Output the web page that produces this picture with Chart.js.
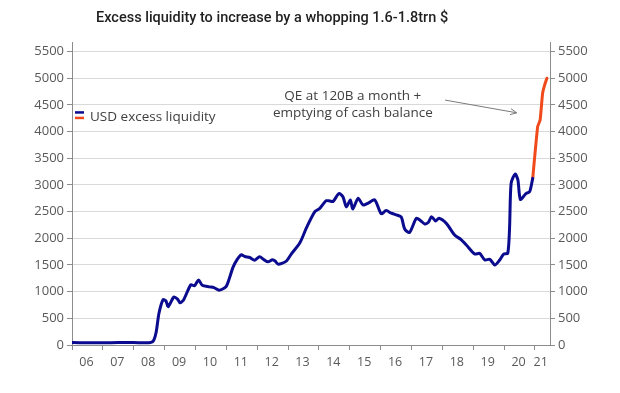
<!DOCTYPE html>
<html><head><meta charset="utf-8">
<script src="https://cdn.jsdelivr.net/npm/chart.js@4.4.0/dist/chart.umd.min.js"></script>
<style>html,body{margin:0;padding:0;background:#fff;}#wrap{width:620px;height:393px;}</style>
</head><body><div id="wrap"><canvas id="c" width="620" height="393"></canvas></div>
<script>
const titleText = 'Excess liquidity to increase by a whopping 1.6-1.8trn $';
const seriesLabel = 'USD excess liquidity';
const forecastLabel = 'USD excess liquidity (projection)';
const annotationLines = ['QE at 120B a month +', 'emptying of cash balance'];
const yearTicks = [2006,2007,2008,2009,2010,2011,2012,2013,2014,2015,2016,2017,2018,2019,2020,2021];
const yearLabels = ['06','07','08','09','10','11','12','13','14','15','16','17','18','19','20','21'];
const yearLabelPos = [2006.47,2007.47,2008.47,2009.47,2010.47,2011.47,2012.47,2013.47,2014.47,2015.47,2016.47,2017.47,2018.47,2019.47,2020.47,2021.19];
const yTicks = [0,500,1000,1500,2000,2500,3000,3500,4000,4500,5000,5500];

const histDates = [2006.02,2006.5,2007.0,2007.5,2008.0,2008.55,2008.65,2008.73,2008.82,2008.95,2009.04,2009.12,2009.3,2009.42,2009.5,2009.62,2009.85,2009.97,2010.1,2010.22,2010.45,2010.6,2010.75,2010.85,2011.0,2011.1,2011.22,2011.35,2011.48,2011.6,2011.76,2011.92,2012.08,2012.22,2012.35,2012.5,2012.58,2012.68,2012.8,2012.95,2013.1,2013.38,2013.6,2013.87,2014.03,2014.15,2014.24,2014.35,2014.46,2014.65,2014.78,2014.89,2015.02,2015.1,2015.27,2015.43,2015.6,2015.81,2016.02,2016.18,2016.35,2016.51,2016.67,2016.78,2016.94,2017.16,2017.3,2017.43,2017.55,2017.65,2017.78,2017.89,2018.13,2018.4,2018.6,2018.78,2019.05,2019.21,2019.38,2019.54,2019.7,2019.86,2019.99,2020.12,2020.18,2020.23,2020.36,2020.45,2020.53,2020.72,2020.83,2020.93];
const histValues = [45,42,43,45,45,45,90,250,600,850,830,720,900,860,790,850,1130,1110,1220,1120,1090,1075,1030,1040,1100,1250,1460,1600,1690,1660,1640,1590,1655,1600,1560,1600,1575,1515,1530,1575,1700,1910,2200,2500,2560,2650,2705,2700,2690,2840,2780,2590,2720,2550,2750,2625,2660,2720,2460,2520,2470,2440,2400,2175,2110,2375,2330,2270,2300,2405,2325,2375,2280,2060,1980,1875,1705,1718,1593,1606,1500,1593,1705,1718,2200,3030,3205,3092,2730,2843,2873,3124];
const fcstDates = [2020.93,2021.09,2021.17,2021.25,2021.32,2021.39];
const fcstValues = [3124,4093,4217,4717,4880,5000];

const annX = 2015.1, annY1 = 4672, annY2 = 4342;
const arrowFrom = [2018.09, 4591], arrowTo = [2020.41, 4353];

const FONT = '"Open Sans", "Noto Sans", sans-serif';
const axisGray = '#8c8c8c';
const textGray = '#595959';

const pts = (xs, ys) => xs.map((x, i) => ({x, y: ys[i]}));

const overlay = {
  id: 'overlay',
  afterDatasetsDraw(chart) {
    const {ctx, chartArea, scales} = chart;
    ctx.save();
    // title
    ctx.font = '500 14.5px Roboto, "Open Sans", sans-serif';
    ctx.fillStyle = '#1f1f1f';
    ctx.textAlign = 'left';
    ctx.textBaseline = 'middle';
    ctx.fillText(titleText, 96, 18);
    // legend
    const lx = chartArea.left + 3, ly = scales.y.getPixelForValue(4280);
    ctx.fillStyle = chart.data.datasets[0].borderColor;
    ctx.fillRect(lx, ly - 5.5, 9, 2.5);
    ctx.fillStyle = chart.data.datasets[1].borderColor;
    ctx.fillRect(lx, ly, 9, 2.5);
    ctx.font = '13.5px ' + FONT;
    ctx.fillStyle = '#404040';
    ctx.textBaseline = 'middle';
    ctx.fillText(seriesLabel, lx + 15, ly);
    // annotation
    ctx.textAlign = 'center';
    ctx.fillText(annotationLines[0], scales.x.getPixelForValue(annX), scales.y.getPixelForValue(annY1));
    ctx.fillText(annotationLines[1], scales.x.getPixelForValue(annX), scales.y.getPixelForValue(annY2));
    const x1 = scales.x.getPixelForValue(arrowFrom[0]), y1 = scales.y.getPixelForValue(arrowFrom[1]);
    const x2 = scales.x.getPixelForValue(arrowTo[0]), y2 = scales.y.getPixelForValue(arrowTo[1]);
    ctx.strokeStyle = '#7a7a7a';
    ctx.lineWidth = 1;
    ctx.beginPath();
    ctx.moveTo(x1, y1); ctx.lineTo(x2, y2);
    const ang = Math.atan2(y2 - y1, x2 - x1);
    const hl = 7, ha = 0.45;
    ctx.moveTo(x2 - hl * Math.cos(ang - ha), y2 - hl * Math.sin(ang - ha));
    ctx.lineTo(x2, y2);
    ctx.lineTo(x2 - hl * Math.cos(ang + ha), y2 - hl * Math.sin(ang + ha));
    ctx.stroke();
    ctx.restore();
  }
};

const yAxis = (pos) => ({
  type: 'linear', position: pos, min: 0, max: 5680,
  afterBuildTicks: s => { s.ticks = yTicks.map(v => ({value: v})); },
  ticks: {autoSkip: false, padding: 3, color: textGray, font: {family: FONT, size: 13}, callback: v => String(v)},
  grid: {color: '#d9d9d9', drawOnChartArea: pos === 'left', tickColor: axisGray, tickLength: 5, lineWidth: 1},
  border: {display: true, color: axisGray, width: 1},
  afterFit: s => { s.width = pos === 'left' ? 72 : 70; s.paddingTop = 0; s.paddingBottom = 0; }
});

new Chart(document.getElementById('c'), {
  type: 'line',
  data: {
    datasets: [
      {label: seriesLabel, data: pts(histDates, histValues), borderColor: '#0b0b8f', borderWidth: 3, pointRadius: 0, tension: 0.25, yAxisID: 'y', borderCapStyle: 'round', borderJoinStyle: 'round'},
      {label: forecastLabel, data: pts(fcstDates, fcstValues), borderColor: '#f04a1c', borderWidth: 3, pointRadius: 0, tension: 0.15, yAxisID: 'y', borderCapStyle: 'round', borderJoinStyle: 'round'}
    ]
  },
  options: {
    responsive: false, animation: false, devicePixelRatio: 1,
    layout: {padding: {top: 42, left: 0, right: 0, bottom: 0}},
    plugins: {legend: {display: false}, tooltip: {enabled: false}, title: {display: false}},
    scales: {
      x: {
        type: 'linear', position: 'bottom', min: 2006, max: 2021.49,
        afterBuildTicks: s => { s.ticks = yearTicks.map(v => ({value: v})).concat(yearLabelPos.map(v => ({value: v}))); },
        ticks: {autoSkip: false, maxRotation: 0, minRotation: 0, padding: 5, color: textGray, font: {family: FONT, size: 12.5},
          callback: v => { const i = yearLabelPos.indexOf(v); return i >= 0 ? yearLabels[i] : ''; }},
        grid: {drawOnChartArea: false, drawTicks: true, tickLength: 5,
          tickColor: c => (c.tick && yearTicks.includes(c.tick.value)) ? axisGray : 'rgba(0,0,0,0)'},
        border: {display: true, color: axisGray, width: 1},
        afterFit: s => { s.height = 48; s.paddingLeft = 0; s.paddingRight = 0; }
      },
      y: yAxis('left'),
      y2: yAxis('right')
    }
  },
  plugins: [overlay]
});
</script></body></html>
